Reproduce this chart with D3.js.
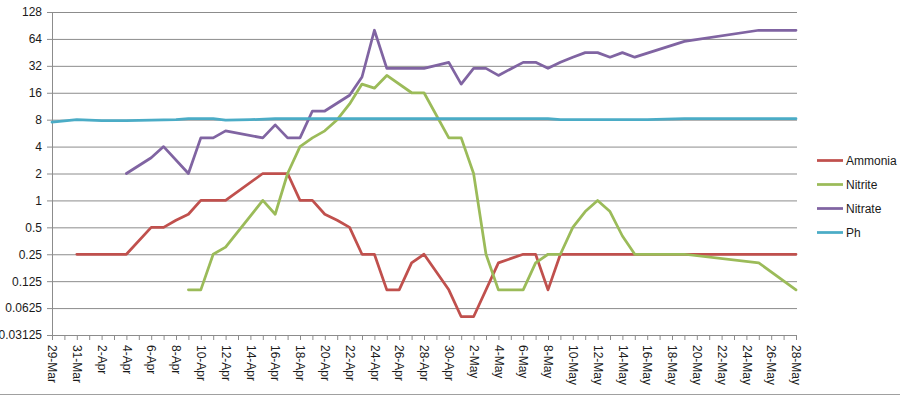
<!DOCTYPE html>
<html>
<head>
<meta charset="utf-8">
<script src="https://cdn.jsdelivr.net/npm/d3@7"></script>
<style>
  body { margin: 0; background: #fff; }
  svg text { font-family: "Liberation Sans", Arial, sans-serif; font-size: 12px; fill: #1a1a1a; }
</style>
</head>
<body>
<svg id="chart" width="900" height="396"></svg>
<script>
// one entry per day, 29-Mar to 28-May (null = no reading that day)
let dates = ["29-Mar","30-Mar","31-Mar",
    "1-Apr","2-Apr","3-Apr","4-Apr","5-Apr","6-Apr","7-Apr","8-Apr","9-Apr","10-Apr",
    "11-Apr","12-Apr","13-Apr","14-Apr","15-Apr","16-Apr","17-Apr","18-Apr","19-Apr","20-Apr",
    "21-Apr","22-Apr","23-Apr","24-Apr","25-Apr","26-Apr","27-Apr","28-Apr","29-Apr","30-Apr",
    "1-May","2-May","3-May","4-May","5-May","6-May","7-May","8-May","9-May","10-May",
    "11-May","12-May","13-May","14-May","15-May","16-May","17-May","18-May","19-May","20-May",
    "21-May","22-May","23-May","24-May","25-May","26-May","27-May","28-May"];

let ammonia = [null, null, 0.25, 0.25, 0.25, 0.25, 0.25, null, 0.5, 0.5,
    0.6, 0.7, 1, 1, 1, null, null, 2, 2, 2,
    1, 1, 0.7, 0.6, 0.5, 0.25, 0.25, 0.1, 0.1, 0.2,
    0.25, null, 0.1, 0.05, 0.05, null, 0.2, null, 0.25, 0.25,
    0.1, 0.25, 0.25, 0.25, 0.25, 0.25, 0.25, 0.25, 0.25, 0.25,
    0.25, 0.25, 0.25, 0.25, 0.25, 0.25, 0.25, 0.25, 0.25, 0.25, 0.25];

let nitrite = [null, null, null, null, null, null, null, null, null, null,
    null, 0.1, 0.1, 0.25, 0.3, null, null, 1, 0.7, 2,
    4, 5, 6, 8, 12, 20, 18, 25, null, 16,
    16, null, 5, 5, 2, 0.25, 0.1, null, 0.1, 0.2,
    0.25, 0.25, 0.5, 0.75, 1, 0.75, 0.4, 0.25, 0.25, 0.25,
    0.25, 0.25, null, null, null, null, null, 0.2, null, null, 0.1];

let nitrate = [null, null, null, null, null, null, 2, null, 3, 4,
    null, 2, 5, 5, 6, null, null, 5, 7, 5,
    5, 10, 10, null, 15, 24, 80, 30, 30, 30,
    30, null, 35, 20, 30, 30, 25, null, 35, 35,
    30, 35, 40, 45, 45, 40, 45, 40, null, null,
    null, 60, null, null, null, null, null, 80, null, null, 80];

let ph = [7.5, null, 8.0, null, 7.8, null, 7.8, null, 7.9, null,
    8.0, 8.2, 8.2, 8.2, 7.9, null, 8.0, null, 8.2, 8.2,
    8.2, 8.2, 8.2, 8.2, 8.2, 8.2, 8.2, 8.2, 8.2, 8.2,
    8.2, 8.2, 8.2, 8.2, 8.2, 8.2, 8.2, 8.2, 8.2, 8.2,
    8.2, 8.0, 8.0, 8.0, 8.0, 8.0, 8.0, 8.0, 8.0, null,
    null, 8.2, 8.2, 8.2, 8.2, 8.2, 8.2, 8.2, 8.2, 8.2, 8.2];

let yTicks = [0.03125, 0.0625, 0.125, 0.25, 0.5, 1, 2, 4, 8, 16, 32, 64, 128];

let series = [
    { name: "Ammonia", values: ammonia, color: "#C0504D" },
    { name: "Nitrite", values: nitrite, color: "#9BBB59" },
    { name: "Nitrate", values: nitrate, color: "#8064A2" },
    { name: "Ph", values: ph, color: "#4BACC6" }
];

let svg = d3.select("#chart");
let parseDate = s => d3.utcParse("%d-%b-%Y")(s + "-2013");
let days = dates.map(parseDate);

let plotLeft = 52, plotRight = 796, plotTop = 12, plotBottom = 335;

let xScale = d3.scaleUtc()
    .domain(d3.extent(days))
    .range([plotLeft, plotRight]);

let yScale = d3.scaleLog()
    .base(2)
    .domain([0.03125, 128])
    .range([plotBottom, plotTop]);

// outer border (only the bottom edge shows in the frame)
svg.append("line")
    .attr("x1", 0).attr("x2", 900)
    .attr("y1", 394.5).attr("y2", 394.5)
    .attr("stroke", "#a0a0a0");

// horizontal gridlines
svg.append("g")
    .selectAll("line")
    .data(yTicks.slice(1))
    .enter()
    .append("line")
    .attr("x1", plotLeft)
    .attr("x2", plotRight + 1)
    .attr("y1", d => yScale(d) + 0.5)
    .attr("y2", d => yScale(d) + 0.5)
    .attr("stroke", "#8c8c8c");

// y axis
let yAxis = svg.append("g")
    .attr("transform", `translate(${plotLeft},0)`)
    .call(d3.axisLeft(yScale)
        .tickValues(yTicks)
        .tickFormat(d => String(d))
        .tickSize(5)
        .tickSizeOuter(0)
        .tickPadding(5));
yAxis.selectAll("line, path").attr("stroke", "#8c8c8c");
yAxis.selectAll("text").style("font-size", "12px").attr("fill", "#1a1a1a");

// x axis: a tick every day, a label every other day
let xAxis = svg.append("g")
    .attr("transform", `translate(0,${plotBottom})`)
    .call(d3.axisBottom(xScale)
        .tickValues(days)
        .tickFormat((d, i) => i % 2 === 0 ? dates[i] : "")
        .tickSize(5)
        .tickSizeOuter(0));
xAxis.selectAll("line, path").attr("stroke", "#8c8c8c");
xAxis.selectAll("text")
    .style("font-size", "12px")
    .attr("fill", "#1a1a1a")
    .attr("y", 0)
    .attr("x", 10)
    .attr("dy", "0.35em")
    .attr("text-anchor", "start")
    .attr("transform", "rotate(90)");

// series lines, gaps bridged like the spreadsheet does
let line = d3.line()
    .x(d => xScale(d.date))
    .y(d => yScale(d.value));

series.forEach(s => {
    let points = s.values
        .map((v, i) => ({ date: days[i], value: v }))
        .filter(d => d.value != null);
    svg.append("path")
        .datum(points)
        .attr("fill", "none")
        .attr("stroke", s.color)
        .attr("stroke-width", 2.75)
        .attr("stroke-linejoin", "round")
        .attr("stroke-linecap", "round")
        .attr("d", line);
});

// legend
let legend = svg.append("g")
    .selectAll("g")
    .data(series)
    .enter()
    .append("g")
    .attr("transform", (d, i) => `translate(817,${160.5 + i * 24})`);

legend.append("line")
    .attr("x1", 0).attr("x2", 26)
    .attr("stroke", d => d.color)
    .attr("stroke-width", 2.75);

legend.append("text")
    .attr("x", 29)
    .attr("dy", "0.35em")
    .text(d => d.name);
</script>
</body>
</html>
